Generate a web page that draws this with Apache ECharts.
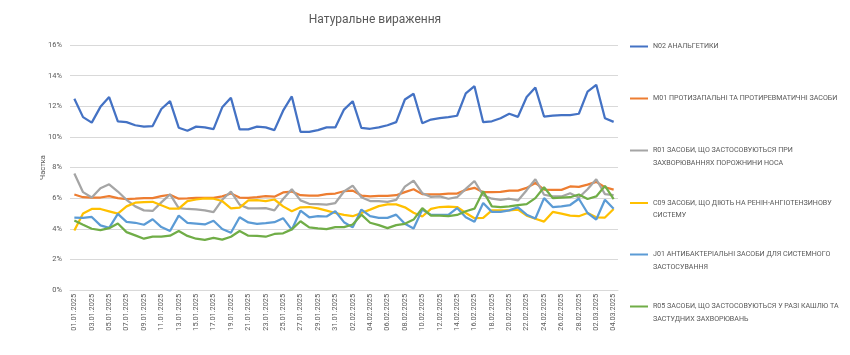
<!DOCTYPE html>
<html>
<head>
<meta charset="utf-8">
<script src="https://cdn.jsdelivr.net/npm/echarts@6/dist/echarts.min.js"></script>
<style>
html,body{margin:0;padding:0;background:#fff;}
#chart{width:850px;height:355px;}
</style>
</head>
<body>
<div id="chart"></div>
<script>
const chartTitle = "Натуральне вираження";
const yAxisName = "Частка";
const categories = [
"01.01.2025","02.01.2025","03.01.2025","04.01.2025","05.01.2025","06.01.2025","07.01.2025","08.01.2025","09.01.2025","10.01.2025",
"11.01.2025","12.01.2025","13.01.2025","14.01.2025","15.01.2025","16.01.2025","17.01.2025","18.01.2025","19.01.2025","20.01.2025",
"21.01.2025","22.01.2025","23.01.2025","24.01.2025","25.01.2025","26.01.2025","27.01.2025","28.01.2025","29.01.2025","30.01.2025",
"31.01.2025","01.02.2025","02.02.2025","03.02.2025","04.02.2025","05.02.2025","06.02.2025","07.02.2025","08.02.2025","09.02.2025",
"10.02.2025","11.02.2025","12.02.2025","13.02.2025","14.02.2025","15.02.2025","16.02.2025","17.02.2025","18.02.2025","19.02.2025",
"20.02.2025","21.02.2025","22.02.2025","23.02.2025","24.02.2025","25.02.2025","26.02.2025","27.02.2025","28.02.2025","01.03.2025",
"02.03.2025","03.03.2025","04.03.2025"
];
const seriesNames = [
"N02 АНАЛЬГЕТИКИ",
"M01 ПРОТИЗАПАЛЬНІ ТА ПРОТИРЕВМАТИЧНІ ЗАСОБИ",
"R01 ЗАСОБИ, ЩО ЗАСТОСОВУЮТЬСЯ ПРИ ЗАХВОРЮВАННЯХ ПОРОЖНИНИ НОСА",
"C09 ЗАСОБИ, ЩО ДІЮТЬ НА РЕНІН-АНГІОТЕНЗИНОВУ СИСТЕМУ",
"J01 АНТИБАКТЕРІАЛЬНІ ЗАСОБИ ДЛЯ СИСТЕМНОГО ЗАСТОСУВАННЯ",
"R05 ЗАСОБИ, ЩО ЗАСТОСОВУЮТЬСЯ У РАЗІ КАШЛЮ ТА ЗАСТУДНИХ ЗАХВОРЮВАНЬ"
];
const legendLines = [
["N02 АНАЛЬГЕТИКИ"],
["M01 ПРОТИЗАПАЛЬНІ ТА ПРОТИРЕВМАТИЧНІ ЗАСОБИ"],
["R01 ЗАСОБИ, ЩО ЗАСТОСОВУЮТЬСЯ ПРИ", "ЗАХВОРЮВАННЯХ ПОРОЖНИНИ НОСА"],
["C09 ЗАСОБИ, ЩО ДІЮТЬ НА РЕНІН-АНГІОТЕНЗИНОВУ", "СИСТЕМУ"],
["J01 АНТИБАКТЕРІАЛЬНІ ЗАСОБИ ДЛЯ СИСТЕМНОГО", "ЗАСТОСУВАННЯ"],
["R05 ЗАСОБИ, ЩО ЗАСТОСОВУЮТЬСЯ У РАЗІ КАШЛЮ ТА", "ЗАСТУДНИХ ЗАХВОРЮВАНЬ"]
];
const yTicks = {min: 0, max: 16, step: 2};

const n02 = [12.49,11.29,10.93,11.96,12.60,11.02,10.96,10.76,10.67,10.71,
11.82,12.33,10.60,10.40,10.67,10.62,10.51,11.93,12.56,10.49,
10.49,10.67,10.62,10.44,11.71,12.64,10.33,10.33,10.44,10.62,
10.62,11.78,12.33,10.58,10.53,10.62,10.76,10.96,12.44,12.82,
10.89,11.13,11.22,11.29,11.38,12.84,13.31,10.96,11.02,11.22,
11.51,11.31,12.60,13.22,11.33,11.38,11.42,11.42,11.51,12.96,
13.40,11.22,10.98];
const m01 = [6.24,6.06,6.04,6.04,6.13,6.00,5.94,5.96,6.00,6.00,
6.13,6.22,5.96,5.98,6.02,6.02,6.02,6.11,6.30,6.04,
6.02,6.06,6.13,6.09,6.37,6.43,6.19,6.17,6.17,6.26,
6.30,6.45,6.49,6.17,6.11,6.15,6.15,6.19,6.39,6.58,
6.26,6.24,6.24,6.30,6.30,6.54,6.67,6.39,6.39,6.41,
6.49,6.49,6.67,6.99,6.56,6.54,6.54,6.76,6.73,6.88,
7.06,6.71,6.56];
const r01 = [7.61,6.39,6.04,6.65,6.90,6.43,5.89,5.46,5.20,5.16,
5.72,6.24,5.35,5.29,5.27,5.20,5.08,5.89,6.43,5.57,
5.33,5.33,5.35,5.20,5.94,6.58,5.85,5.63,5.61,5.57,
5.68,6.43,6.82,6.06,5.81,5.81,5.76,5.89,6.75,7.14,
6.32,6.08,6.11,5.96,6.06,6.60,7.12,6.19,5.96,5.89,
5.96,5.85,6.52,7.23,6.22,6.11,6.11,6.32,6.04,6.58,
7.23,6.26,6.19];
const c09 = [3.89,4.99,5.29,5.29,5.14,4.99,5.46,5.70,5.74,5.76,
5.53,5.31,5.31,5.81,5.91,5.98,5.96,5.81,5.33,5.38,
5.85,5.87,5.81,5.91,5.46,5.14,5.40,5.42,5.33,5.18,
5.03,4.90,4.82,5.03,5.25,5.48,5.59,5.59,5.40,5.05,
4.80,5.30,5.42,5.44,5.42,5.03,4.69,4.71,5.20,5.20,
5.20,5.25,4.86,4.65,4.47,5.10,4.99,4.86,4.82,5.03,
4.75,4.73,5.29];
const j01 = [4.73,4.71,4.77,4.22,4.06,4.97,4.45,4.39,4.26,4.62,
4.11,3.85,4.86,4.39,4.34,4.28,4.52,3.98,3.74,4.75,
4.41,4.32,4.37,4.43,4.69,3.94,5.18,4.75,4.82,4.80,
5.14,4.43,4.09,5.25,4.82,4.71,4.71,4.92,4.32,4.02,
5.25,4.90,4.90,4.90,5.35,4.75,4.45,5.68,5.10,5.10,
5.20,5.40,4.92,4.67,6.00,5.42,5.46,5.55,5.96,5.03,
4.60,5.89,5.31];
const r05 = [4.54,4.26,4.00,3.91,4.04,4.34,3.78,3.57,3.35,3.48,
3.48,3.55,3.85,3.53,3.35,3.27,3.40,3.29,3.48,3.85,
3.55,3.53,3.48,3.66,3.70,3.96,4.49,4.09,4.02,3.98,
4.11,4.11,4.28,4.92,4.39,4.24,4.04,4.24,4.32,4.60,
5.35,4.86,4.86,4.82,4.90,5.14,5.31,6.45,5.46,5.42,
5.46,5.55,5.61,6.00,6.71,6.00,6.04,6.06,6.24,5.94,
6.11,6.80,5.94];

const seriesValues = [n02, m01, r01, c09, j01, r05];
const colors = ["#4472C4","#ED7D31","#A5A5A5","#FFC000","#5B9BD5","#70AD47"];
const legendIconY = [46.5, 98.5, 150.5, 203, 254.5, 306.5];

const FONT = "Roboto, 'Liberation Sans', sans-serif";
const TXT = "#595959";

const chart = echarts.init(document.getElementById('chart'), null, {renderer: 'canvas'});

const LH = 12.5;
const legends = seriesNames.map((name, k) => {
  const lines = legendLines[k];
  const multi = lines.length > 1;
  // a blank leading line keeps the first text line level with the icon
  const label = multi ? ' \n' + lines.join('\n') : lines[0];
  const boxH = multi ? LH * 3 : LH;
  return {
    data: [name],
    orient: 'vertical',
    left: 630,
    top: legendIconY[k] - boxH / 2,
    padding: 0,
    icon: 'rect',
    itemWidth: 18,
    itemHeight: 2,
    itemGap: 2,
    selectedMode: false,
    formatter: () => label,
    textStyle: {
      fontFamily: FONT,
      fontSize: 7.1,
      color: TXT,
      lineHeight: LH
    }
  };
});

chart.setOption({
  animation: false,
  backgroundColor: '#ffffff',
  color: colors,
  title: {
    text: chartTitle,
    left: 370,
    textAlign: 'center',
    top: 9,
    textStyle: {fontFamily: FONT, fontSize: 12, fontWeight: 'normal', color: TXT}
  },
  legend: legends,
  grid: {left: 70, right: 232, top: 45, bottom: 65, containLabel: false},
  xAxis: {
    type: 'category',
    data: categories,
    boundaryGap: true,
    axisLine: {show: true, lineStyle: {color: '#D9D9D9', width: 1}},
    axisTick: {show: false},
    axisLabel: {
      interval: 1,
      rotate: 90,
      fontFamily: FONT,
      fontSize: 7.3,
      color: TXT,
      margin: 4
    },
    splitLine: {show: false}
  },
  yAxis: {
    type: 'value',
    min: yTicks.min,
    max: yTicks.max,
    interval: yTicks.step,
    name: yAxisName,
    nameLocation: 'middle',
    nameGap: 23,
    nameRotate: 90,
    nameMoveOverlap: false,
    nameTextStyle: {fontFamily: FONT, fontSize: 7.5, color: TXT},
    axisLine: {show: false},
    axisTick: {show: false},
    axisLabel: {
      formatter: '{value}%',
      fontFamily: FONT,
      fontSize: 7.5,
      color: TXT,
      margin: 8
    },
    splitLine: {lineStyle: {color: '#D9D9D9', width: 1}}
  },
  series: seriesNames.map((name, k) => ({
    name: name,
    type: 'line',
    data: seriesValues[k],
    symbol: 'none',
    smooth: false,
    lineStyle: {width: 2.25, color: colors[k]},
    itemStyle: {color: colors[k]}
  }))
});
</script>
</body>
</html>
